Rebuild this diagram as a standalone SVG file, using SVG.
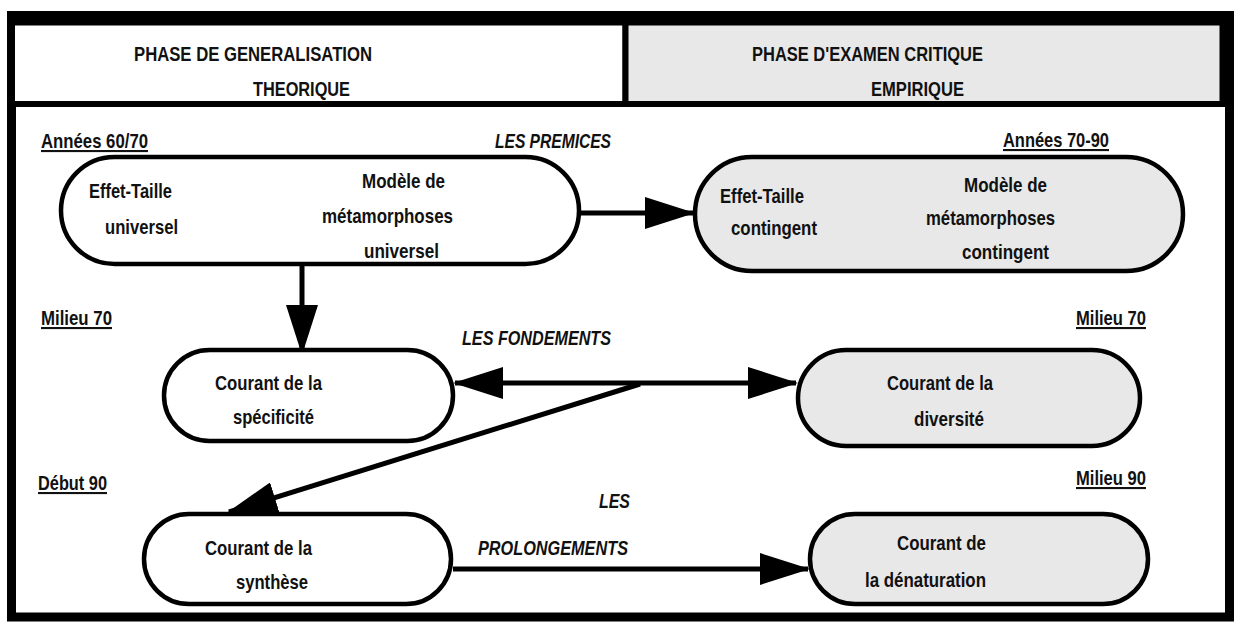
<svg xmlns="http://www.w3.org/2000/svg" width="1234" height="622" viewBox="0 0 1234 622">
<style>
text{font-family:"Liberation Sans Narrow","Liberation Sans",Arial,sans-serif;font-weight:bold;font-size:21px;fill:#111;}
.it{font-style:italic;}
.ul{text-decoration:underline;}
.pill{stroke:#000;stroke-width:4.5;}
.w{fill:#fff;}
.g{fill:#e8e8e8;}
.ln{stroke:#000;stroke-width:5;fill:none;}
</style>
<defs>
<marker id="ah" markerUnits="userSpaceOnUse" markerWidth="50" markerHeight="32" refX="48" refY="16" orient="auto-start-reverse" viewBox="0 0 50 32">
<path d="M0,0 L50,16 L0,32 Z" fill="#000"/>
</marker>
</defs>
<rect width="1234" height="622" fill="#fff"/>
<g id="frame">
<rect x="11.5" y="15.5" width="1218" height="601.5" fill="#fff" stroke="#000" stroke-width="9"/>
<rect x="12" y="22.5" width="613.5" height="81.5" fill="#fff" stroke="#000" stroke-width="6"/>
<rect x="625.5" y="22.5" width="597" height="81.5" fill="#e8e8e8" stroke="#000" stroke-width="6"/>
<text x="134" y="61" textLength="238" lengthAdjust="spacingAndGlyphs">PHASE DE GENERALISATION</text>
<text x="253" y="96" textLength="97" lengthAdjust="spacingAndGlyphs">THEORIQUE</text>
<text x="752" y="61" textLength="231" lengthAdjust="spacingAndGlyphs">PHASE D'EXAMEN CRITIQUE</text>
<text x="871" y="96" textLength="93" lengthAdjust="spacingAndGlyphs">EMPIRIQUE</text>
</g>
<g id="labels">
<text class="ul" x="41" y="148" textLength="107" lengthAdjust="spacingAndGlyphs">Années 60/70</text>
<text class="it" x="495" y="148" textLength="116" lengthAdjust="spacingAndGlyphs">LES PREMICES</text>
<text class="ul" x="1003" y="147" textLength="106" lengthAdjust="spacingAndGlyphs">Années 70-90</text>
<text class="ul" x="41" y="325" textLength="71" lengthAdjust="spacingAndGlyphs">Milieu 70</text>
<text class="it" x="462" y="345" textLength="149" lengthAdjust="spacingAndGlyphs">LES FONDEMENTS</text>
<text class="ul" x="1076" y="325" textLength="70" lengthAdjust="spacingAndGlyphs">Milieu 70</text>
<text class="ul" x="38" y="490" textLength="69" lengthAdjust="spacingAndGlyphs">Début 90</text>
<text class="it" x="599" y="508" textLength="31" lengthAdjust="spacingAndGlyphs">LES</text>
<text class="it" x="478" y="555" textLength="150" lengthAdjust="spacingAndGlyphs">PROLONGEMENTS</text>
<text class="ul" x="1076" y="485" textLength="70" lengthAdjust="spacingAndGlyphs">Milieu 90</text>
</g>
<g id="connectors">
<line class="ln" x1="581" y1="213" x2="693" y2="213" marker-end="url(#ah)"/>
<line class="ln" x1="302" y1="265" x2="302" y2="353" marker-end="url(#ah)"/>
<line class="ln" x1="455" y1="383" x2="796" y2="383" marker-start="url(#ah)" marker-end="url(#ah)"/>
<line class="ln" x1="640" y1="384" x2="229" y2="512" marker-end="url(#ah)"/>
<line class="ln" x1="453" y1="569" x2="808" y2="569" marker-end="url(#ah)"/>
</g>
<g id="node-premices-theorique">
<rect class="pill w" x="61" y="157" width="518" height="107" rx="53.5"/>
<text x="89" y="198" textLength="83" lengthAdjust="spacingAndGlyphs">Effet-Taille</text>
<text x="105" y="234" textLength="73" lengthAdjust="spacingAndGlyphs">universel</text>
<text x="362" y="188" textLength="83" lengthAdjust="spacingAndGlyphs">Modèle de</text>
<text x="322" y="223" textLength="131" lengthAdjust="spacingAndGlyphs">métamorphoses</text>
<text x="364" y="258" textLength="75" lengthAdjust="spacingAndGlyphs">universel</text>
</g>
<g id="node-premices-empirique">
<rect class="pill g" x="695" y="157" width="488" height="114" rx="57"/>
<text x="720" y="203" textLength="84" lengthAdjust="spacingAndGlyphs">Effet-Taille</text>
<text x="731" y="235" textLength="86" lengthAdjust="spacingAndGlyphs">contingent</text>
<text x="964" y="192" textLength="83" lengthAdjust="spacingAndGlyphs">Modèle de</text>
<text x="926" y="225" textLength="129" lengthAdjust="spacingAndGlyphs">métamorphoses</text>
<text x="962" y="259" textLength="87" lengthAdjust="spacingAndGlyphs">contingent</text>
</g>
<g id="node-specificite">
<rect class="pill w" x="164" y="350" width="289" height="91" rx="45.5"/>
<text x="215" y="390" textLength="107" lengthAdjust="spacingAndGlyphs">Courant de la</text>
<text x="233" y="424" textLength="81" lengthAdjust="spacingAndGlyphs">spécificité</text>
</g>
<g id="node-diversite">
<rect class="pill g" x="798" y="350" width="342" height="96" rx="48"/>
<text x="887" y="390" textLength="106" lengthAdjust="spacingAndGlyphs">Courant de la</text>
<text x="914" y="426" textLength="70" lengthAdjust="spacingAndGlyphs">diversité</text>
</g>
<g id="node-synthese">
<rect class="pill w" x="144" y="514" width="307" height="90" rx="45"/>
<text x="205" y="555" textLength="107" lengthAdjust="spacingAndGlyphs">Courant de la</text>
<text x="236" y="589" textLength="72" lengthAdjust="spacingAndGlyphs">synthèse</text>
</g>
<g id="node-denaturation">
<rect class="pill g" x="810" y="514" width="338" height="90" rx="45"/>
<text x="897" y="550" textLength="89" lengthAdjust="spacingAndGlyphs">Courant de</text>
<text x="865" y="587" textLength="121" lengthAdjust="spacingAndGlyphs">la dénaturation</text>
</g>
</svg>
